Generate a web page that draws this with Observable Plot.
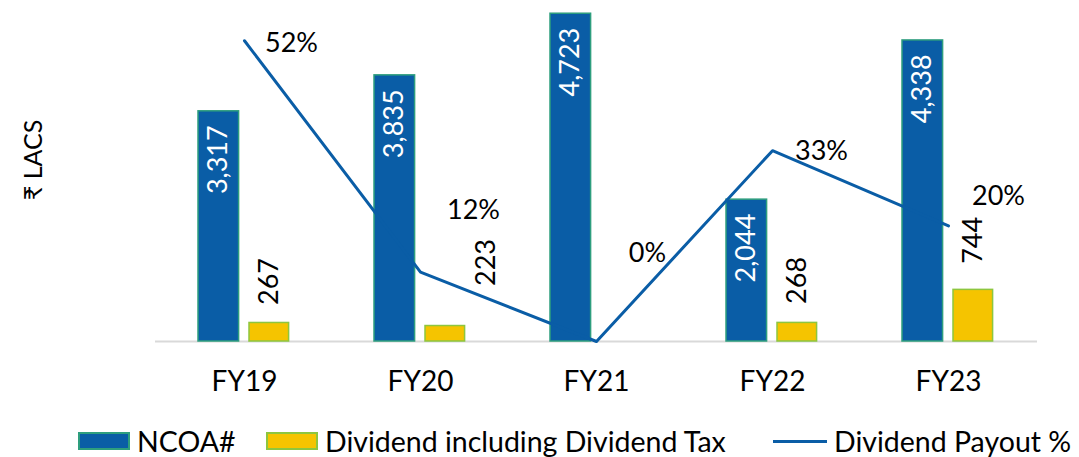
<!DOCTYPE html>
<html>
<head>
<meta charset="utf-8">
<script src="https://cdn.jsdelivr.net/npm/d3@7"></script>
<script src="https://cdn.jsdelivr.net/npm/@observablehq/plot@0.6"></script>
<style>
  html, body { margin: 0; padding: 0; background: #fff; }
  body { width: 1079px; height: 457px; overflow: hidden; font-family: Lato, "Noto Sans", sans-serif; }
  #legend { position: relative; height: 42px; font-size: 28.5px; color: #000; }
  .item { position: absolute; top: 11px; display: flex; align-items: center; gap: 7px; white-space: nowrap; line-height: 30px; }
  .sw { width: 48px; height: 14px; }
  .ln { width: 54px; height: 3px; background: #0A5DA6; }
</style>
</head>
<body>
<div id="chart"></div>
<div id="legend"></div>
<script>
// ---- data ----
const years = ["FY19", "FY20", "FY21", "FY22", "FY23"];
const ncoa = [3317, 3835, 4723, 2044, 4338];
const dividend = [267, 223, null, 268, 744];
const payout = [52, 12, 0, 33, 20]; // %
const seriesNames = ["NCOA#", "Dividend including Dividend Tax", "Dividend Payout %"];

// label placement nudges (pixels)
const payoutLabelDx = [47, 53, 51, 49, 50];
const payoutLabelDy = [3, -62, -88, 1, -29];
const dividendLabelDx = [0, 41, 0, 0, 0];
const dividendLabelGap = [18, 40, 0, 19, 26];

// ---- axes ----
const Y_MAX = 5000;     // primary axis (₹ lacs)
const PCT_MAX = 60;     // secondary axis (%)

const blue = "#0A5DA6", yellow = "#F5C400";
const blueEdge = "#2E9E7E", yellowEdge = "#8DC63F";

const rows = years.map((y, i) => ({
  year: y, ncoa: ncoa[i], div: dividend[i], pay: payout[i],
  payY: payout[i] / PCT_MAX * Y_MAX,
  pdx: payoutLabelDx[i], pdy: payoutLabelDy[i],
  ddx: dividendLabelDx[i], dgap: dividendLabelGap[i]
}));
const divRows = rows.filter(d => d.div != null);
const fmt = d3.format(",");

const marks = [
  Plot.ruleY([0], {stroke: "#d9d9d9", strokeWidth: 2}),
  Plot.barY(rows, {x: "year", y: "ncoa", fill: blue, stroke: blueEdge, strokeWidth: 1.5, insetLeft: 42, insetRight: 93.4}),
  Plot.barY(divRows, {x: "year", y: "div", fill: yellow, stroke: yellowEdge, strokeWidth: 1.5, insetLeft: 93, insetRight: 43.4}),
  Plot.line(rows, {x: "year", y: "payY", stroke: blue, strokeWidth: 3}),
  Plot.text(rows, {x: "year", y: "ncoa", text: d => fmt(d.ncoa), rotate: -90, textAnchor: "end", lineAnchor: "middle",
    dx: -25.7, dy: 14, fill: "white", fontSize: 27}),
];
divRows.forEach(d => {
  marks.push(Plot.text([d], {x: "year", y: "div", text: r => fmt(r.div), rotate: -90, textAnchor: "start", lineAnchor: "middle",
    dx: 24.8 + d.ddx, dy: -d.dgap, fill: "black", fontSize: 27}));
});
rows.forEach(d => {
  marks.push(Plot.text([d], {x: "year", y: "payY", text: r => r.pay + "%", textAnchor: "middle", lineAnchor: "middle",
    dx: d.pdx, dy: d.pdy, fill: "black", fontSize: 27}));
});
marks.push(Plot.text(["₹ LACS"], {frameAnchor: "left", dx: -122, dy: -11, rotate: -90, textAnchor: "middle", lineAnchor: "middle", fontSize: 25, fill: "black"}));

const chart = Plot.plot({
  width: 1079,
  height: 415,
  marginTop: 0,
  marginBottom: 74,
  marginLeft: 155,
  marginRight: 42,
  style: {fontFamily: "Lato, 'Noto Sans', sans-serif", background: "white", overflow: "visible", display: "block"},
  x: {domain: years, padding: 0, label: null, tickSize: 0, tickPadding: 30, fontSize: 28},
  y: {domain: [0, Y_MAX], range: [341, -6], axis: null},
  marks
});
d3.select(chart).selectAll("g[aria-label='x-axis tick label']").attr("font-size", 28).attr("fill", "black");
document.getElementById("chart").appendChild(chart);

// legend
const lg = document.getElementById("legend");
const items = [
  {name: seriesNames[0], left: 78, html: `<div class="sw" style="background:${blue};border:2px solid ${blueEdge}"></div>`},
  {name: seriesNames[1], left: 266, html: `<div class="sw" style="background:${yellow};border:2px solid ${yellowEdge}"></div>`},
  {name: seriesNames[2], left: 773, html: `<div class="ln"></div>`}
];
items.forEach(it => {
  const el = document.createElement("div");
  el.className = "item";
  el.style.left = it.left + "px";
  el.innerHTML = it.html + `<span>${it.name}</span>`;
  lg.appendChild(el);
});
</script>
</body>
</html>
